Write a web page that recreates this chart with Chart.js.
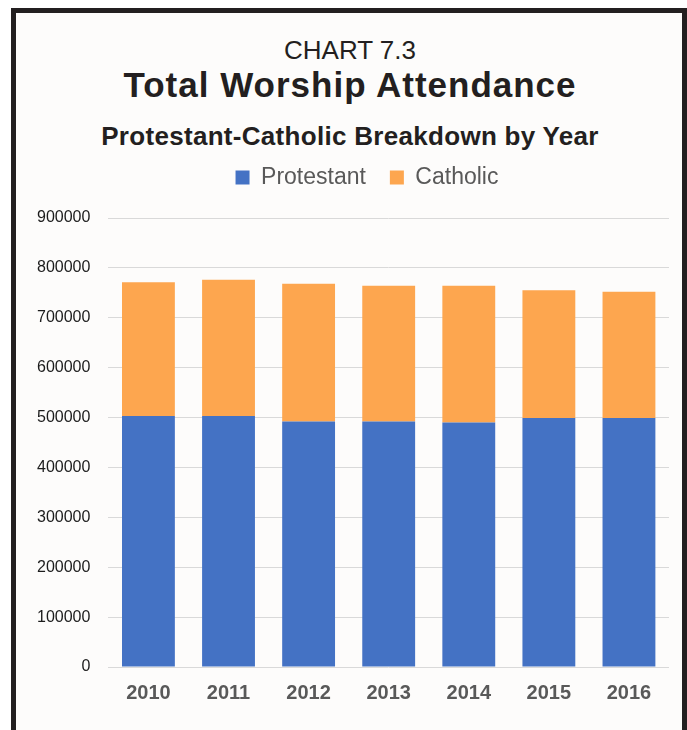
<!DOCTYPE html>
<html>
<head>
<meta charset="utf-8">
<script src="https://cdn.jsdelivr.net/npm/chart.js@4/dist/chart.umd.min.js"></script>
<style>
  html, body { margin: 0; padding: 0; width: 687px; height: 730px; overflow: hidden; background: #ffffff; }
  #frame { position: absolute; left: 11px; top: 8px; width: 666px; height: 760px; border: 5px solid #231f20; background: #fdfcfb; }
  .head { position: absolute; left: 0; width: 700px; text-align: center; font-family: "Liberation Sans", Arial, sans-serif; color: #231f20; line-height: 1; white-space: nowrap; }
  #kicker { top: 37px; font-size: 26px; font-weight: normal; }
  #title { top: 67px; font-size: 35px; font-weight: bold; letter-spacing: 1px; }
  #subtitle { top: 123px; font-size: 26px; font-weight: bold; letter-spacing: 0.3px; }
  #wrap { position: absolute; left: 16px; top: 142px; width: 668px; height: 588px; }
</style>
</head>
<body>
<div id="frame"></div>
<div class="head" id="kicker">CHART 7.3</div>
<div class="head" id="title">Total Worship Attendance</div>
<div class="head" id="subtitle">Protestant-Catholic Breakdown by Year</div>
<div id="wrap"><canvas id="chart"></canvas></div>
<script>
// values
const years = ['2010', '2011', '2012', '2013', '2014', '2015', '2016'];
const protestant = [503000, 503000, 492000, 492000, 490000, 499000, 499000];
const catholic = [268000, 273000, 276000, 272000, 274000, 256000, 253000];
const yTicks = [0, 100000, 200000, 300000, 400000, 500000, 600000, 700000, 800000, 900000];

// extra room under the legend so the plot starts lower, legend nudged right
const legendGap = {
  id: 'legendGap',
  beforeInit(chart) {
    const fit = chart.legend.fit;
    chart.legend.fit = function () {
      fit.call(this);
      this.height += 19;
    };
  },
  afterLayout(chart) {
    chart.legend.left += 23;
    chart.legend.right += 23;
  }
};

const ctx = document.getElementById('chart').getContext('2d');
new Chart(ctx, {
  type: 'bar',
  data: {
    labels: years,
    datasets: [
      { label: 'Protestant', data: protestant, backgroundColor: '#4472c4' },
      { label: 'Catholic', data: catholic, backgroundColor: '#fda64f' }
    ]
  },
  options: {
    responsive: true,
    maintainAspectRatio: false,
    animation: false,
    layout: { padding: { left: 3, right: 15, top: 0, bottom: 19 } },
    datasets: { bar: { categoryPercentage: 1, barPercentage: 0.66 } },
    plugins: {
      tooltip: { enabled: false },
      legend: {
        position: 'top',
        labels: {
          boxWidth: 14,
          boxHeight: 14,
          padding: 24,
          color: '#595959',
          font: { family: '"Liberation Sans", Arial, sans-serif', size: 23 }
        }
      }
    },
    scales: {
      x: {
        stacked: true,
        grid: { display: false },
        border: { display: false },
        ticks: {
          padding: 6,
          color: '#595959',
          font: { family: '"Liberation Sans", Arial, sans-serif', size: 20, weight: 'bold' }
        }
      },
      y: {
        stacked: true,
        min: 0,
        max: 900000,
        afterBuildTicks(axis) {
          axis.ticks = yTicks.map(v => ({ value: v }));
        },
        grid: { color: '#d9d9d9', lineWidth: 1, drawTicks: false },
        border: { display: false },
        ticks: {
          padding: 18,
          color: '#1c1c1c',
          callback: v => String(v),
          font: { family: '"Liberation Sans", Arial, sans-serif', size: 16 }
        }
      }
    }
  },
  plugins: [legendGap]
});
</script>
</body>
</html>
